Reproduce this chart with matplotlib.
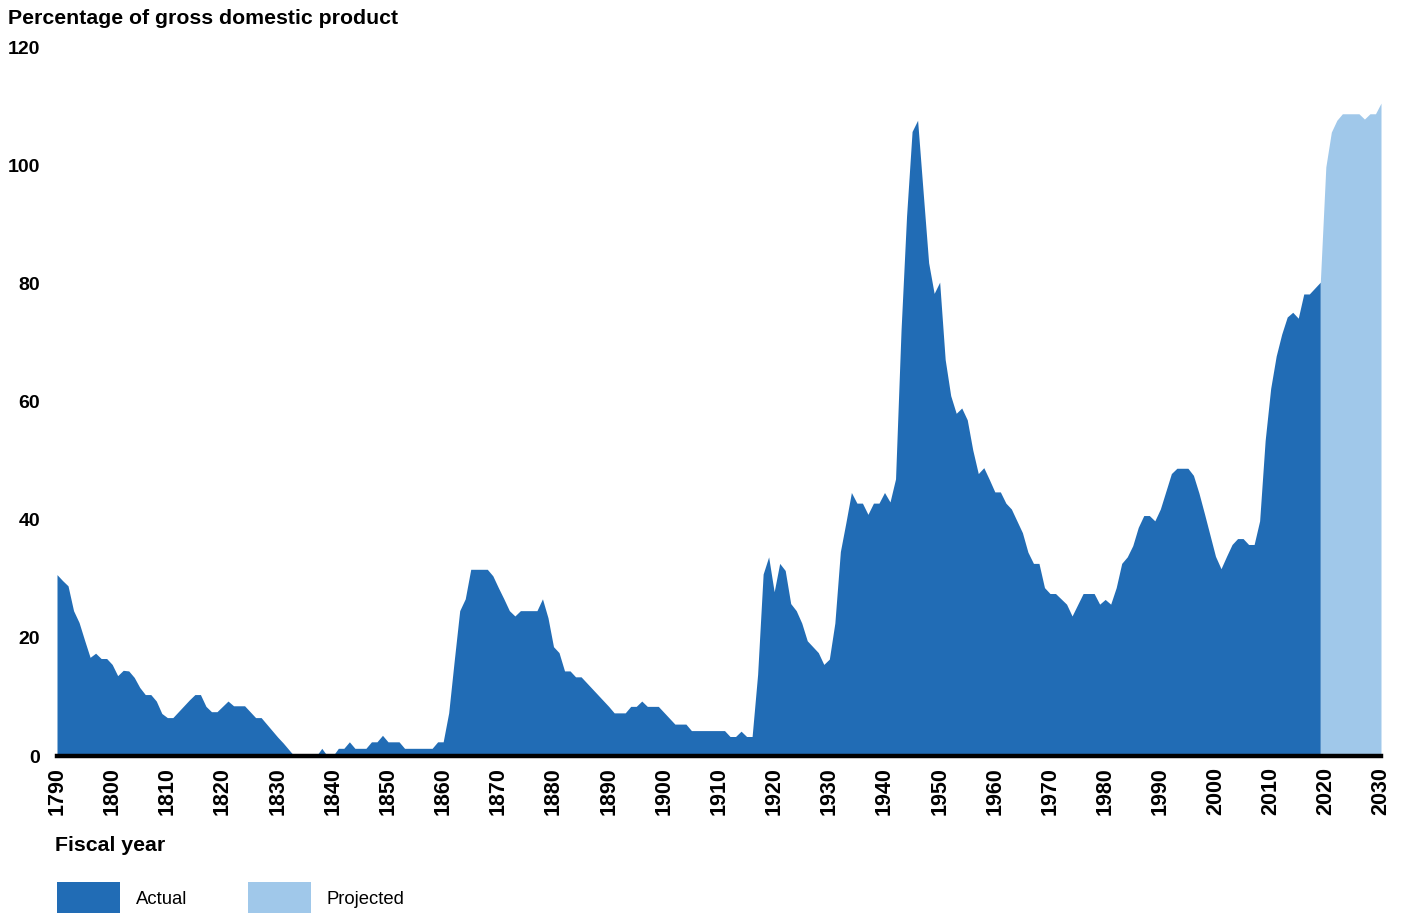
import matplotlib
matplotlib.use('Agg')
import matplotlib.pyplot as plt
from matplotlib.patches import Patch

plt.rcParams['font.family'] = ['Liberation Sans', 'DejaVu Sans']

# Federal debt held by the public, percent of GDP
actual_years = list(range(1790, 2020))
actual_values = [
    30.7, 29.7, 28.8, 24.6, 22.6, 19.6, 16.7, 17.4, 16.5, 16.5,   # 1790s
    15.5, 13.6, 14.5, 14.4, 13.3, 11.6, 10.4, 10.4, 9.3, 7.2,     # 1800s
    6.5, 6.5, 7.5, 8.5, 9.5, 10.4, 10.4, 8.4, 7.5, 7.5,           # 1810s
    8.4, 9.3, 8.5, 8.5, 8.5, 7.5, 6.5, 6.5, 5.4, 4.3,             # 1820s
    3.2, 2.2, 1.1, 0.0, 0.0, 0.0, 0.0, 0.0, 1.3, 0.0,             # 1830s
    0.0, 1.3, 1.3, 2.4, 1.3, 1.3, 1.3, 2.4, 2.4, 3.5,             # 1840s
    2.4, 2.4, 2.4, 1.3, 1.3, 1.3, 1.3, 1.3, 1.3, 2.4,             # 1850s
    2.4, 7.3, 16.1, 24.6, 26.6, 31.6, 31.6, 31.6, 31.6, 30.5,     # 1860s
    28.5, 26.6, 24.6, 23.7, 24.6, 24.6, 24.6, 24.6, 26.6, 23.4,   # 1870s
    18.5, 17.5, 14.4, 14.4, 13.4, 13.4, 12.4, 11.4, 10.4, 9.4,    # 1880s
    8.4, 7.3, 7.3, 7.3, 8.4, 8.4, 9.3, 8.4, 8.4, 8.4,             # 1890s
    7.4, 6.4, 5.4, 5.4, 5.4, 4.3, 4.3, 4.3, 4.3, 4.3,             # 1900s
    4.3, 4.3, 3.3, 3.3, 4.2, 3.3, 3.3, 13.8, 30.8, 33.7,          # 1910s
    27.8, 32.6, 31.4, 25.8, 24.6, 22.5, 19.5, 18.5, 17.5, 15.5,   # 1920s
    16.4, 22.5, 34.6, 39.5, 44.6, 42.8, 42.8, 40.9, 42.8, 42.8,   # 1930s
    44.6, 43.0, 46.9, 72.1, 91.4, 105.7, 107.6, 95.5, 83.5, 78.3, # 1940s
    80.2, 67.1, 61.0, 58.0, 58.9, 56.9, 51.8, 47.8, 48.8, 46.8,   # 1950s
    44.7, 44.7, 42.8, 41.8, 39.8, 37.8, 34.5, 32.6, 32.6, 28.5,   # 1960s
    27.5, 27.5, 26.6, 25.7, 23.7, 25.6, 27.5, 27.5, 27.5, 25.7,   # 1970s
    26.5, 25.7, 28.5, 32.6, 33.7, 35.6, 38.7, 40.7, 40.7, 39.8,   # 1980s
    41.8, 44.8, 47.8, 48.7, 48.7, 48.7, 47.5, 44.5, 41.0, 37.4,   # 1990s
    33.8, 31.7, 33.8, 35.8, 36.8, 36.8, 35.8, 35.8, 39.8, 53.4,   # 2000s
    62.2, 67.7, 71.4, 74.3, 75.1, 74.1, 78.2, 78.2, 79.2, 80.2,   # 2010s
]
projected_years = list(range(2019, 2031))
projected_values = [80.2, 99.7, 105.6, 107.6, 108.7, 108.7, 108.7, 108.7,
                    107.8, 108.7, 108.7, 110.5]

x_ticks = list(range(1790, 2031, 10))
y_ticks = [0, 20, 40, 60, 80, 100, 120]

dark_blue = '#216cb5'
light_blue = '#a0c8ea'

fig = plt.figure(figsize=(14.01, 9.13), dpi=100)
ax = fig.add_axes([57 / 1401, 157 / 913, 1324 / 1401, 709 / 913])

ax.fill_between(actual_years, actual_values, 0, color=dark_blue, linewidth=0)
ax.fill_between(projected_years, projected_values, 0, color=light_blue, linewidth=0)

ax.set_xlim(1790, 2030)
ax.set_ylim(0, 120)
ax.set_xticks(x_ticks)
ax.set_yticks(y_ticks)
ax.set_xticklabels([str(y) for y in x_ticks], rotation=90, fontsize=15.5, fontweight='bold')
ax.set_yticklabels([str(v) for v in y_ticks], fontsize=14, fontweight='bold')
ax.tick_params(axis='x', length=0, pad=8)
ax.tick_params(axis='y', length=0, pad=12)

for side in ['top', 'right', 'left']:
    ax.spines[side].set_visible(False)
ax.spines['bottom'].set_linewidth(3.2)
ax.spines['bottom'].set_color('black')

fig.text(8 / 1401, 1 - 18 / 913, 'Percentage of gross domestic product',
         fontsize=15.3, fontweight='bold', va='center', ha='left')
fig.text(55 / 1401, 1 - 845 / 913, 'Fiscal year',
         fontsize=15.3, fontweight='bold', va='center', ha='left')

handles = [Patch(facecolor=dark_blue, edgecolor='none', label='Actual'),
           Patch(facecolor=light_blue, edgecolor='none', label='Projected')]
fig.legend(handles=handles, loc='upper left', bbox_to_anchor=(57 / 1401, 1 - 882 / 913),
           ncol=2, frameon=False, fontsize=13.3, handlelength=3.4, handleheight=2.4,
           handletextpad=0.85, columnspacing=3.3, borderpad=0, borderaxespad=0)

fig.savefig('out.png', dpi=100)
